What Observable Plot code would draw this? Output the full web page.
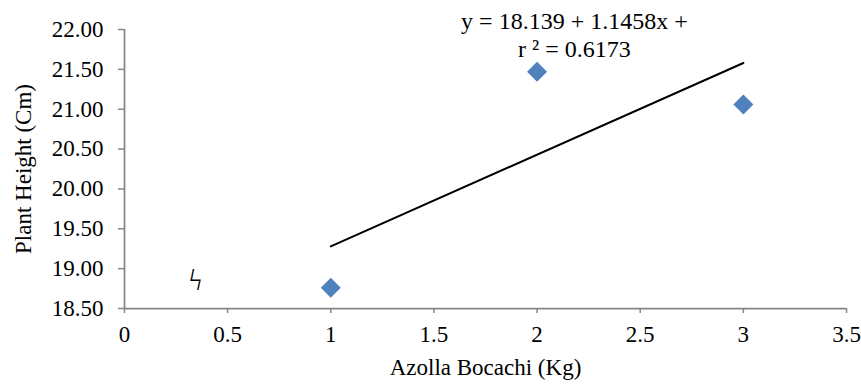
<!DOCTYPE html>
<html>
<head>
<meta charset="utf-8">
<script src="https://cdn.jsdelivr.net/npm/d3@7"></script>
<script src="https://cdn.jsdelivr.net/npm/@observablehq/plot@0.6"></script>
<style>
  html, body { margin: 0; padding: 0; background: #fff; }
  svg { display: block; }
  svg text { font-family: "Liberation Serif", "Times New Roman", serif !important; }
</style>
</head>
<body>
<div id="chart"></div>
<script>
const azolla = [1, 2, 3];
const plantHeight = [18.76, 21.47, 21.06];
const xTicks = [0, 0.5, 1, 1.5, 2, 2.5, 3, 3.5];
const yTicks = [18.5, 19.0, 19.5, 20.0, 20.5, 21.0, 21.5, 22.0];
const equationLines = ["y = 18.139 + 1.1458x +", "r ² = 0.6173"];
const equationPos = [{x: 2.181, y: 21.94}];
const breakMark = [{x: 0.344, y: 18.854, t: "ϟ"}];

const data = azolla.map((x, i) => ({x, y: plantHeight[i]}));
const axisColor = "#868686";
const fmtY = d3.format(".2f");

const chart = Plot.plot({
  width: 861,
  height: 387,
  marginLeft: 124,
  marginRight: 15,
  marginTop: 29,
  marginBottom: 79,
  style: {background: "#fff", overflow: "visible", color: "#000", fontSize: "23px"},
  x: {domain: [0, 3.5], ticks: xTicks, tickFormat: d => String(d)},
  y: {domain: [18.5, 22], ticks: yTicks, tickFormat: fmtY},
  marks: [
    Plot.ruleY([18.5], {stroke: axisColor, strokeWidth: 1.75}),
    Plot.ruleX([0], {stroke: axisColor, strokeWidth: 1.75}),
    Plot.axisX({ticks: xTicks, tickFormat: d => String(d), tickSize: 5, tickPadding: 12, stroke: axisColor, strokeWidth: 1.5, fill: "#000", fontSize: 23, label: null}),
    Plot.axisY({ticks: yTicks, tickSize: 6, text: null, stroke: axisColor, strokeWidth: 1.5, label: null}),
    Plot.text(yTicks, {x: 0, y: d => d, text: d => fmtY(d), textAnchor: "end", dx: -21, fill: "#000", fontSize: 23, clip: false}),
    Plot.text(["Azolla Bocachi (Kg)"], {frameAnchor: "bottom", dy: 66, fill: "#000", fontSize: 23}),
    Plot.text(["Plant Height (Cm)"], {frameAnchor: "left", textAnchor: "middle", dx: -101, rotate: -90, fill: "#000", fontSize: 23}),
    Plot.linearRegressionY(data, {x: "x", y: "y", ci: 0, stroke: "#000", strokeWidth: 2}),
    Plot.dot(data, {x: "x", y: "y", symbol: "diamond2", r: 9, fill: "#4F81BD", stroke: "none"}),
    Plot.text(equationPos, {x: "x", y: "y", text: () => equationLines.join("\n"), lineHeight: 1.13, fill: "#000", fontSize: 24, clip: false}),
    Plot.text(breakMark, {x: "x", y: "y", text: "t", fontSize: 30, fill: "#000"})
  ]
});
document.getElementById("chart").appendChild(chart);
</script>
</body>
</html>
